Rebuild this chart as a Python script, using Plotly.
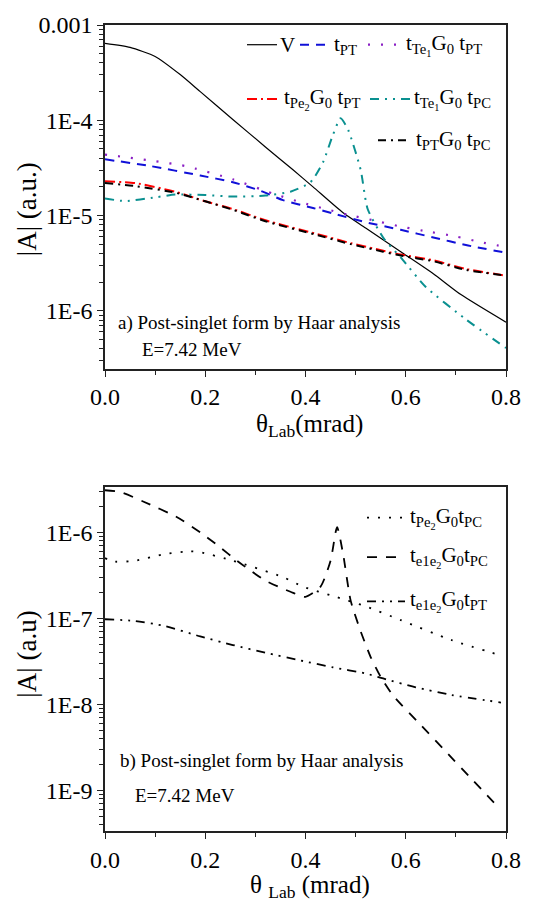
import plotly.graph_objects as go

# ---------------- data: panel a ----------------
th_V = [0, 0.05, 0.1, 0.15, 0.19, 0.255, 0.32, 0.375, 0.415, 0.475, 0.52, 0.59, 0.655, 0.71, 0.8]
A_V = [6.41e-4, 5.82e-4, 4.68e-4, 3.02e-4, 2.0e-4, 1.02e-4, 5.25e-5, 3.02e-5, 2.0e-5, 1.07e-5,
       7.41e-6, 4.17e-6, 2.45e-6, 1.48e-6, 7.59e-7]

th_tPT = [0, 0.09, 0.19, 0.255, 0.31, 0.355, 0.415, 0.455, 0.52, 0.59, 0.655, 0.72, 0.8]
A_tPT = [3.89e-5, 3.31e-5, 2.63e-5, 2.24e-5, 1.82e-5, 1.45e-5, 1.20e-5, 1.05e-5, 8.51e-6,
         7.08e-6, 5.89e-6, 4.90e-6, 4.07e-6]

th_Te1PT = [0, 0.1, 0.16, 0.255, 0.335, 0.39, 0.44, 0.485, 0.535, 0.585, 0.635, 0.7, 0.75, 0.8]
A_Te1PT = [4.37e-5, 3.72e-5, 3.31e-5, 2.40e-5, 1.70e-5, 1.38e-5, 1.17e-5, 1.02e-5, 8.91e-6,
           7.76e-6, 6.92e-6, 6.03e-6, 5.25e-6, 4.68e-6]

th_Pe2PT = [0, 0.06, 0.14, 0.2, 0.255, 0.32, 0.42, 0.49, 0.555, 0.59, 0.655, 0.72, 0.8]
A_Pe2PT = [2.29e-5, 2.19e-5, 1.78e-5, 1.41e-5, 1.17e-5, 8.91e-6, 6.46e-6, 5.13e-6, 4.27e-6,
           3.89e-6, 3.39e-6, 2.75e-6, 2.34e-6]

th_Te1PC = [0, 0.04, 0.1, 0.14, 0.2, 0.255, 0.32, 0.37, 0.41, 0.435, 0.455, 0.47, 0.485, 0.51,
            0.524, 0.556, 0.59, 0.64, 0.72, 0.8]
A_Te1PC = [1.51e-5, 1.42e-5, 1.55e-5, 1.66e-5, 1.64e-5, 1.58e-5, 1.62e-5, 1.78e-5, 2.24e-5,
           3.63e-5, 7.08e-5, 1.05e-4, 7.94e-5, 3.02e-5, 1.17e-5, 5.75e-6, 3.63e-6, 1.78e-6,
           8.13e-7, 4.07e-7]

th_PTPC = [0, 0.06, 0.14, 0.2, 0.255, 0.32, 0.42, 0.49, 0.555, 0.59, 0.655, 0.72, 0.8]
A_PTPC = [2.19e-5, 2.04e-5, 1.74e-5, 1.41e-5, 1.15e-5, 8.71e-6, 6.31e-6, 5.01e-6, 4.17e-6,
          3.80e-6, 3.31e-6, 2.69e-6, 2.34e-6]

# ---------------- data: panel b ----------------
th_Pe2PC = [0, 0.02, 0.06, 0.12, 0.17, 0.19, 0.255, 0.355, 0.395, 0.455, 0.52, 0.59, 0.69, 0.795]
A_Pe2PC = [5.01e-7, 4.57e-7, 4.68e-7, 5.62e-7, 6.03e-7, 5.89e-7, 4.68e-7, 3.02e-7, 2.34e-7,
           1.82e-7, 1.38e-7, 9.55e-8, 5.62e-8, 3.63e-8]

th_e1e2PC = [0, 0.03, 0.076, 0.143, 0.19, 0.22, 0.27, 0.32, 0.37, 0.40, 0.43, 0.45, 0.463, 0.475,
             0.49, 0.51, 0.53, 0.55, 0.575, 0.63, 0.68, 0.735, 0.785]
A_e1e2PC = [3.09e-6, 2.95e-6, 2.29e-6, 1.51e-6, 1.0e-6, 7.41e-7, 4.37e-7, 2.75e-7, 2.04e-7,
            1.78e-7, 2.34e-7, 4.68e-7, 1.15e-6, 5.62e-7, 1.62e-7, 7.08e-8, 3.55e-8, 2.09e-8,
            1.26e-8, 5.75e-9, 2.82e-9, 1.29e-9, 6.31e-10]

th_e1e2PT = [0, 0.06, 0.12, 0.19, 0.255, 0.32, 0.39, 0.455, 0.52, 0.555, 0.62, 0.69, 0.79]
A_e1e2PT = [9.77e-8, 9.33e-8, 8.13e-8, 6.17e-8, 4.90e-8, 3.98e-8, 3.24e-8, 2.69e-8, 2.29e-8,
            2.0e-8, 1.58e-8, 1.29e-8, 1.05e-8]

x_ticks = [0.0, 0.2, 0.4, 0.6, 0.8]
x_ticktext = ["0.0", "0.2", "0.4", "0.6", "0.8"]
ya_ticks = [1e-6, 1e-5, 1e-4, 1e-3]
ya_ticktext = ["1E-6", "1E-5", "1E-4", "0.001"]
yb_ticks = [1e-9, 1e-8, 1e-7, 1e-6]
yb_ticktext = ["1E-9", "1E-8", "1E-7", "1E-6"]

FONT = "Liberation Serif"
W, H = 560, 904
L, R, T, B = 105, 54, 13, 73


def px(x):
    return (x - L) / (W - L - R)


def py(y):
    return (H - B - y) / (H - T - B)


top_series = [
    (th_V, A_V, "black", "solid", 1.2),
    (th_tPT, A_tPT, "#1010d8", "9px,7px", 2),
    (th_Te1PT, A_Te1PT, "#8a1fc4", "2px,11px", 2.2),
    (th_Pe2PT, A_Pe2PT, "#ff0000", "10px,4px,2px,4px", 2),
    (th_Te1PC, A_Te1PC, "#0a9090", "9px,6px,2px,6px,2px,6px", 2),
    (th_PTPC, A_PTPC, "black", "8px,5px,2px,5px", 2),
]
bot_series = [
    (th_Pe2PC, A_Pe2PC, "black", "2px,9px", 1.8),
    (th_e1e2PC, A_e1e2PC, "black", "10px,9px", 1.8),
    (th_e1e2PT, A_e1e2PT, "black", "9px,6px,2px,6px,2px,6px", 1.8),
]

fig = go.Figure()
for th, a, c, d, w in top_series:
    fig.add_trace(go.Scatter(x=th, y=a, mode="lines", xaxis="x", yaxis="y",
                             line=dict(color=c, dash=d, width=w, shape="spline", smoothing=0.6),
                             showlegend=False, hoverinfo="skip"))
for th, a, c, d, w in bot_series:
    fig.add_trace(go.Scatter(x=th, y=a, mode="lines", xaxis="x2", yaxis="y2",
                             line=dict(color=c, dash=d, width=w, shape="spline", smoothing=0.6),
                             showlegend=False, hoverinfo="skip"))


def minor_vals(lo, hi):
    out = []
    for e in range(lo, hi):
        for m in range(2, 10):
            out.append(m * 10 ** e)
    return out


axis_common = dict(showline=True, linecolor="#222", linewidth=1.5, mirror=True,
                   showgrid=False, zeroline=False, ticks="outside", ticklen=6,
                   tickwidth=1.3, tickcolor="#222",
                   tickfont=dict(family=FONT, size=24, color="black"))

fig.update_layout(
    width=W, height=H,
    margin=dict(l=L, r=R, t=T, b=B),
    plot_bgcolor="white", paper_bgcolor="white",
    font=dict(family=FONT),
    xaxis=dict(domain=[0, 1], anchor="y", range=[0, 0.8], tickvals=x_ticks, ticktext=x_ticktext,
               minor=dict(tickvals=[0.1, 0.3, 0.5, 0.7], ticks="outside", ticklen=4,
                          tickcolor="#222", tickwidth=1.2), **axis_common),
    yaxis=dict(domain=[0.5733, 1], anchor="x", type="log", range=[-6.61, -3.0],
               tickvals=ya_ticks, ticktext=ya_ticktext,
               minor=dict(tickvals=minor_vals(-7, -3), ticks="outside", ticklen=4,
                          tickcolor="#222", tickwidth=1.1), **axis_common),
    xaxis2=dict(domain=[0, 1], anchor="y2", range=[0, 0.8], tickvals=x_ticks, ticktext=x_ticktext,
                minor=dict(tickvals=[0.1, 0.3, 0.5, 0.7], ticks="outside", ticklen=4,
                           tickcolor="#222", tickwidth=1.2), **axis_common),
    yaxis2=dict(domain=[0, 0.4267], anchor="x2", type="log", range=[-9.473, -5.473],
                tickvals=yb_ticks, ticktext=yb_ticktext,
                minor=dict(tickvals=minor_vals(-10, -5), ticks="outside", ticklen=4,
                           tickcolor="#222", tickwidth=1.1), **axis_common),
)

shapes = []
annotations = []


def legend_item(x0, x1, y, color, dash, width, label, tx):
    shapes.append(dict(type="line", xref="paper", yref="paper", x0=px(x0), x1=px(x1),
                       y0=py(y), y1=py(y), line=dict(color=color, dash=dash, width=width)))
    annotations.append(dict(xref="paper", yref="paper", x=px(tx), y=py(y), text=label,
                            showarrow=False, xanchor="left", yanchor="middle",
                            font=dict(family=FONT, size=21, color="black")))


# panel a legend
legend_item(247, 277, 33, "black", "solid", 1.2, "V", 278)
legend_item(300, 330, 33, "#1010d8", "9px,7px", 2, "t<sub>PT</sub>", 332)
legend_item(368, 400, 33, "#8a1fc4", "2px,11px", 2.2,
            "t<sub>Te<sub>1</sub></sub>G<sub>0</sub> t<sub>PT</sub>", 404)
legend_item(247, 280, 88, "#ff0000", "10px,4px,2px,4px", 2,
            "t<sub>Pe<sub>2</sub></sub>G<sub>0</sub> t<sub>PT</sub>", 282)
legend_item(370, 410, 88, "#0a9090", "9px,6px,2px,6px,2px,6px", 2,
            "t<sub>Te<sub>1</sub></sub>G<sub>0</sub> t<sub>PC</sub>", 412)
legend_item(378, 410, 130, "black", "8px,5px,2px,5px", 2,
            "t<sub>PT</sub>G<sub>0</sub> t<sub>PC</sub>", 414)

# panel b legend
legend_item(367, 405, 513, "black", "2px,9px", 1.8, "t<sub>Pe<sub>2</sub></sub>G<sub>0</sub>t<sub>PC</sub>", 408)
legend_item(367, 405, 553, "black", "10px,9px", 1.8, "t<sub>e1e<sub>2</sub></sub>G<sub>0</sub>t<sub>PC</sub>", 408)
legend_item(367, 405, 598, "black", "9px,6px,2px,6px,2px,6px", 1.8,
            "t<sub>e1e<sub>2</sub></sub>G<sub>0</sub>t<sub>PT</sub>", 408)


def text(x, y, s, size=19, anchor="left", angle=0):
    annotations.append(dict(xref="paper", yref="paper", x=px(x), y=py(y), text=s,
                            showarrow=False, xanchor=anchor, yanchor="middle", textangle=angle,
                            font=dict(family=FONT, size=size, color="black")))


text(116, 315, "a) Post-singlet form by Haar analysis")
text(140, 342, "E=7.42 MeV")
text(118, 760, "b) Post-singlet form by Haar analysis")
text(133, 795, "E=7.42 MeV")

# axis titles
text(309, 419, "θ<sub>Lab</sub>(mrad)", size=25, anchor="center")
text(310, 887, "θ <sub>Lab</sub> (mrad)", size=25, anchor="center")
text(27, 200, "|A| (a.u.)", size=27, anchor="center", angle=-90)
text(27, 652, "|A| (a.u)", size=27, anchor="center", angle=-90)

fig.update_layout(shapes=shapes, annotations=annotations)
fig.write_html(
    "out.html",
    config={"displayModeBar": False},
    post_script=("document.body.style.margin='0';document.body.style.padding='0';"
                 "var gd=document.getElementById('{plot_id}');"
                 "gd.style.position='absolute';gd.style.left='0px';gd.style.top='0px';"),
)
